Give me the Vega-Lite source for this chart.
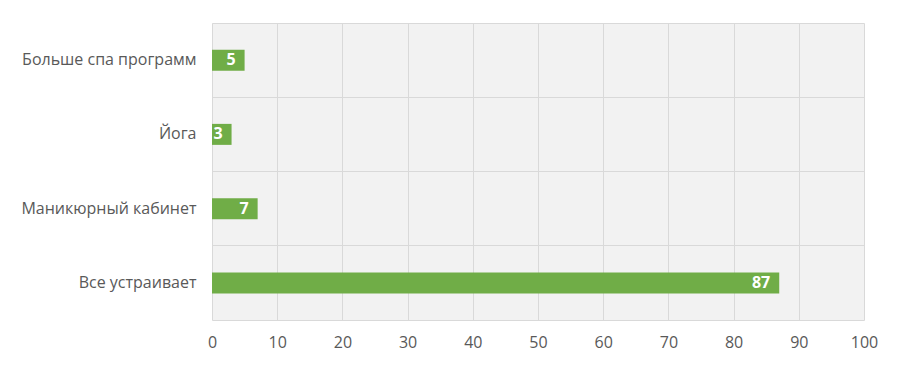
{
  "$schema": "https://vega.github.io/schema/vega-lite/v6.json",
  "width": 652,
  "height": 297,
  "autosize": {"type": "none"},
  "padding": {"left": 212, "top": 23, "right": 38, "bottom": 48},
  "background": "white",
  "config": {
    "font": "Open Sans",
    "view": {"fill": "#f2f2f2", "stroke": null}
  },
  "data": {
    "values": [
      {"category": "Больше спа программ", "value": 5},
      {"category": "Йога", "value": 3},
      {"category": "Маникюрный кабинет", "value": 7},
      {"category": "Все устраивает", "value": 87}
    ]
  },
  "encoding": {
    "y": {
      "field": "category",
      "type": "nominal",
      "sort": null,
      "scale": {"paddingInner": 0, "paddingOuter": 0},
      "axis": {
        "title": null,
        "domain": false,
        "ticks": false,
        "grid": true,
        "gridColor": "#d9d9d9",
        "bandPosition": 0,
        "labelPadding": 16,
        "labelFontSize": 16,
        "labelColor": "#595959",
        "labelLimit": 300
      }
    },
    "x": {
      "field": "value",
      "type": "quantitative",
      "scale": {"domain": [0, 100], "nice": false},
      "axis": {
        "title": null,
        "values": [0, 10, 20, 30, 40, 50, 60, 70, 80, 90, 100],
        "domain": true,
        "domainColor": "#d9d9d9",
        "ticks": false,
        "grid": true,
        "gridColor": "#d9d9d9",
        "labelPadding": 14,
        "labelFontSize": 16,
        "labelColor": "#595959",
        "labelFlush": false
      }
    }
  },
  "layer": [
    {
      "mark": {"type": "bar", "color": "#70AD47", "size": 21}
    },
    {
      "mark": {"type": "text", "align": "right", "dx": -9, "color": "white", "fontWeight": "bold", "fontSize": 16},
      "encoding": {"text": {"field": "value", "type": "quantitative"}}
    }
  ]
}
